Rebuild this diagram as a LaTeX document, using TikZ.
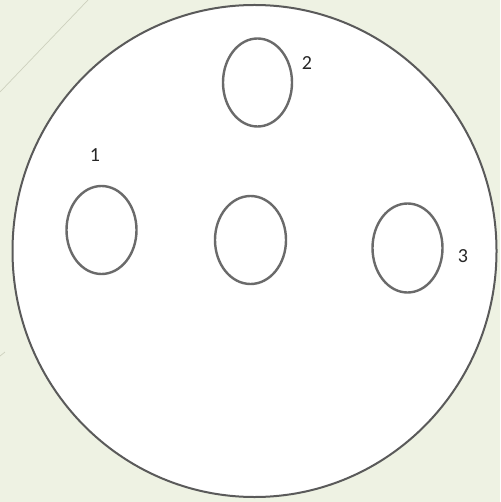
\documentclass[tikz,border=0pt]{standalone}
\usepackage{fontspec}
\setmainfont{Carlito}
\usetikzlibrary{shapes.geometric}
\definecolor{bgcol}{HTML}{EEF2E3}
\definecolor{rimcol}{HTML}{5A5A5A}
\definecolor{holecol}{HTML}{6A6A6A}
\definecolor{streak}{HTML}{CDD0BE}
\tikzset{
  hole/.style={ellipse, draw=holecol, line width=2.4pt, fill=white, inner sep=0pt},
  plate/.style={ellipse, draw=rimcol, line width=2pt, fill=white, inner sep=0pt},
  lbl/.style={font=\fontsize{20}{24}\selectfont, text=black!85, inner sep=0pt}
}
\begin{document}
\begin{tikzpicture}[x=1pt,y=-1pt]
\fill[bgcol] (0,0) rectangle (500,502);
\useasboundingbox (0,0) rectangle (500,502);
\coordinate (s1) at (88,0);
\coordinate (s2) at (0,92);
\draw[streak, line width=0.7pt] (s1) -- (s2);
\coordinate (t1) at (5,352);
\coordinate (t2) at (0,356);
\draw[streak, line width=0.7pt] (t1) -- (t2);
\node[plate, minimum width=484pt, minimum height=492pt] (plate) at (254.5,251) {};
\node[hole, minimum width=69pt, minimum height=88pt] (h2) at (257.5,82.5) {};
\node[hole, minimum width=70pt, minimum height=88pt] (h1) at (101.5,230) {};
\node[hole, minimum width=71pt, minimum height=88pt] (h0) at (250.5,240) {};
\node[hole, minimum width=70pt, minimum height=89pt] (h3) at (407.5,248) {};
\node[lbl] (l1) at (95,155) {1};
\node[lbl] (l2) at (307,63) {2};
\node[lbl] (l3) at (463,256) {3};
\end{tikzpicture}
\end{document}
